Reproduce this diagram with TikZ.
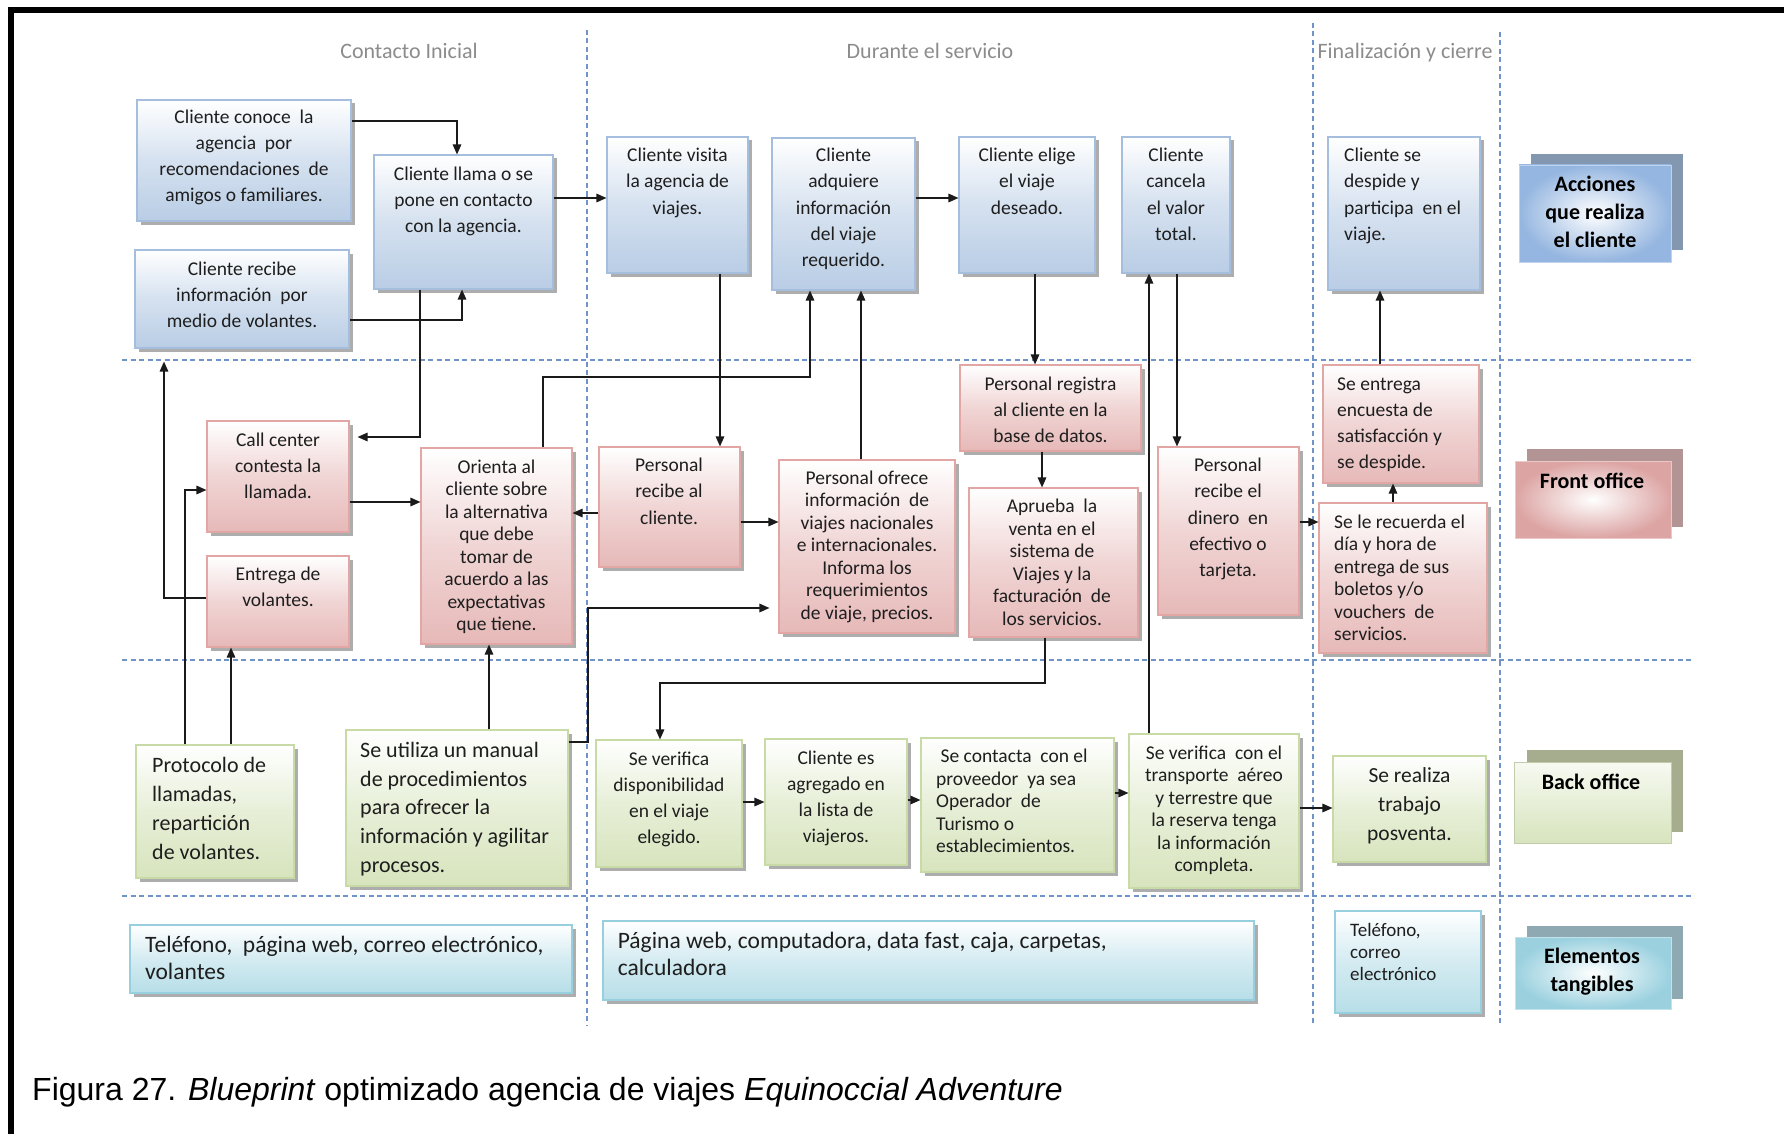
\documentclass[tikz,border=0pt]{standalone}
\usepackage{fontspec}
\setmainfont{Carlito}
\newfontfamily\capfont{Liberation Sans}
\usetikzlibrary{arrows.meta,shadows,fit}

\definecolor{bluebg}{HTML}{B9CDE5}
\definecolor{bluebd}{HTML}{A6BEDD}
\definecolor{redbg}{HTML}{E6B9B8}
\definecolor{redbd}{HTML}{E2A6A5}
\definecolor{greenbg}{HTML}{D7E4BD}
\definecolor{greenbd}{HTML}{C8DAA6}
\definecolor{aquabg}{HTML}{B7DEE8}
\definecolor{aquabd}{HTML}{98CFDE}
\definecolor{lanecol}{HTML}{7094C8}
\definecolor{headcol}{HTML}{8C8C8C}
\definecolor{ink}{HTML}{1E1E1E}
\definecolor{arrcol}{HTML}{1A1A1A}
% legend colours
\definecolor{laback}{HTML}{8497B0}
\definecolor{laout}{HTML}{95B6E0}
\definecolor{lbback}{HTML}{B39495}
\definecolor{lbout}{HTML}{DCA5A4}
\definecolor{lcback}{HTML}{A6AD8F}
\definecolor{lcout}{HTML}{D7E4BD}
\definecolor{ldback}{HTML}{8EA9B1}
\definecolor{ldout}{HTML}{9BD1DF}

\newcommand\fstrut{\rule{0pt}{20pt}}

\begin{document}
\begin{tikzpicture}[x=1pt,y=-1pt,
  every node/.style={inner sep=0pt, text=ink},
  box/.style={line width=1.1pt,
    drop shadow={shadow xshift=3.5pt,shadow yshift=-3.5pt,fill=black,opacity=0.32}},
  cbox/.style={box, draw=bluebd, top color=white, bottom color=bluebg, middle color=bluebg!60},
  fbox/.style={box, draw=redbd, top color=white, bottom color=redbg, middle color=redbg!60},
  bbox/.style={box, draw=greenbd, top color=white, bottom color=greenbg, middle color=greenbg!60},
  tbox/.style={box, draw=aquabd, top color=white, bottom color=aquabg, middle color=aquabg!60},
  tA/.style={align=center, font={\fontsize{19.5}{26.2}\selectfont}},
  tAl/.style={align=left, font={\fontsize{19.5}{26.2}\selectfont}},
  tC/.style={align=center, font={\fontsize{19.5}{22.5}\selectfont}},
  tCl/.style={align=left, font={\fontsize{19.5}{22.5}\selectfont}},
  tD/.style={align=left, font={\fontsize{22}{28.8}\selectfont}},
  tDc/.style={align=center, font={\fontsize{21.5}{28.7}\selectfont}},
  tE/.style={align=left, font={\fontsize{23.5}{27}\selectfont}},
  tEs/.style={align=left, font={\fontsize{19}{21.7}\selectfont}},
  lg/.style={align=center, text=black, font={\bfseries\fontsize{22}{28.3}\selectfont}},
  hd/.style={text=headcol, font={\fontsize{22}{26}\selectfont}},
  lane/.style={draw=lanecol, line width=1.1pt, dash pattern=on 5pt off 3.5pt},
  arr/.style={draw=arrcol, line width=1.4pt, -{Triangle[length=10pt,width=8.5pt]}},
]
\useasboundingbox (0,0) rectangle (1784,1134);
\fill[white] (0,0) rectangle (1784,1134);

% outer frame (top and left edges)
\draw[line width=6pt, line join=miter] (11,1134) -- (11,10) -- (1784,10);

% swim-lane separators
\draw[lane] (122,360) -- (1692,360);
\draw[lane] (122,660) -- (1692,660);
\draw[lane] (122,896) -- (1692,896);
\draw[lane] (587,30) -- (587,1025);
\draw[lane] (1313,23) -- (1313,1025);
\draw[lane] (1500,32) -- (1500,1025);

% phase headers
\node[hd, anchor=base] (h1) at (409,59) {Contacto Inicial};
\node[hd, anchor=base] (h2) at (930,59) {Durante el servicio};
\node[hd, anchor=base] (h3) at (1405,59) {Finalización y cierre};

% ---------- customer actions ----------
\node[cbox, fit={(137,100) (351,221)}] (a1) {};
\node[tA, anchor=north] (a1t) at (244,103) {\fstrut Cliente conoce\ \ la\\agencia\ \ por\\recomendaciones\ \ de\\amigos o familiares.};
\node[cbox, fit={(374,155) (553,289)}] (a2) {};
\node[tA, anchor=north] (a2t) at (463.5,160) {\fstrut Cliente llama o se\\pone en contacto\\con la agencia.};
\node[cbox, fit={(135,250) (349,348)}] (a3) {};
\node[tA, anchor=north] (a3t) at (242,255) {\fstrut Cliente recibe\\información\ \ por\\medio de volantes.};
\node[cbox, fit={(607,137) (748,273)}] (b1) {};
\node[tA, anchor=north] (b1t) at (677.5,141.5) {\fstrut Cliente visita\\la agencia de\\viajes.};
\node[cbox, fit={(772,138) (915,290)}] (b2) {};
\node[tA, anchor=north] (b2t) at (843.5,141.5) {\fstrut Cliente\\adquiere\\información\\del viaje\\requerido.};
\node[cbox, fit={(959,137) (1095,273)}] (b3) {};
\node[tA, anchor=north] (b3t) at (1027,141.5) {\fstrut Cliente elige\\el viaje\\deseado.};
\node[cbox, fit={(1122,137) (1230,273)}] (b4) {};
\node[tA, anchor=north] (b4t) at (1176,141.5) {\fstrut Cliente\\cancela\\el valor\\total.};
\node[cbox, fit={(1328,137) (1480,290)}] (b5) {};
\node[tAl, anchor=north west] (b5t) at (1344,141.5) {\fstrut Cliente se\\despide y\\participa\ \ en el\\viaje.};

% ---------- front office ----------
\node[fbox, fit={(207,421) (349,532)}] (c1) {};
\node[tA, anchor=north] (c1t) at (278,426) {\fstrut Call center\\contesta la\\llamada.};
\node[fbox, fit={(207,556) (349,647)}] (c2) {};
\node[tA, anchor=north] (c2t) at (278,560.5) {\fstrut Entrega de\\volantes.};
\node[fbox, fit={(421,448) (572,644)}] (c3) {};
\node[tC, anchor=north] (c3t) at (496.5,453) {\fstrut Orienta al\\cliente sobre\\la alternativa\\que debe\\tomar de\\acuerdo a las\\expectativas\\que tiene.};
\node[fbox, fit={(599,447) (740,567)}] (c4) {};
\node[tA, anchor=north] (c4t) at (669,451.5) {\fstrut Personal\\recibe al\\cliente.};
\node[fbox, fit={(779,460) (955,633)}] (c5) {};
\node[tC, anchor=north] (c5t) at (867,464) {\fstrut Personal ofrece\\información\ \ de\\viajes nacionales\\e internacionales.\\Informa los\\requerimientos\\de viaje, precios.};
\node[fbox, fit={(960,365) (1141,451)}] (c6) {};
\node[tA, anchor=north] (c6t) at (1050.5,370) {\fstrut Personal registra\\al cliente en la\\base de datos.};
\node[fbox, fit={(969,488) (1138,637)}] (c7) {};
\node[tC, anchor=north] (c7t) at (1052,492.5) {\fstrut Aprueba\ \ la\\venta en el\\sistema de\\Viajes y la\\facturación\ \ de\\los servicios.};
\node[fbox, fit={(1158,447) (1299,615)}] (c8) {};
\node[tA, anchor=north] (c8t) at (1228,451.5) {\fstrut Personal\\recibe el\\dinero\ \ en\\efectivo o\\tarjeta.};
\node[fbox, fit={(1323,365) (1479,483)}] (c9) {};
\node[tAl, anchor=north west] (c9t) at (1337,370) {\fstrut Se entrega\\encuesta de\\satisfacción y\\se despide.};
\node[fbox, fit={(1319,503) (1487,653)}] (c10) {};
\node[tCl, anchor=north west] (c10t) at (1334,508) {\fstrut Se le recuerda el\\día y hora de\\entrega de sus\\boletos y/o\\vouchers\ \ de\\servicios.};

% ---------- back office ----------
\node[bbox, fit={(136,745) (294,878)}] (d1) {};
\node[tD, anchor=north west] (d1t) at (152,752.5) {\fstrut Protocolo de\\llamadas,\\repartición\\de volantes.};
\node[bbox, fit={(346,730) (568,886)}] (d2) {};
\node[tD, anchor=north west] (d2t) at (360,737) {\fstrut Se utiliza un manual\\de procedimientos\\para ofrecer la\\información y agilitar\\procesos.};
\node[bbox, fit={(596,740) (742,867)}] (d3) {};
\node[tA, anchor=north] (d3t) at (669,745) {\fstrut Se verifica\\disponibilidad\\en el viaje\\elegido.};
\node[bbox, fit={(765,739) (907,865)}] (d4) {};
\node[tA, anchor=north] (d4t) at (836,744) {\fstrut Cliente es\\agregado en\\la lista de\\viajeros.};
\node[bbox, fit={(921,738) (1114,872)}] (d5) {};
\node[tCl, anchor=north west] (d5t) at (936,742.5) {\fstrut\hspace*{4.4pt}Se contacta\ \ con el\\proveedor\ \ ya sea\\Operador\ \ de\\Turismo o\\establecimientos.};
\node[bbox, fit={(1129,734) (1299,888)}] (d6) {};
\node[tC, anchor=north] (d6t) at (1214,739) {\fstrut Se verifica\ \ con el\\transporte\ \ aéreo\\y terrestre que\\la reserva tenga\\la información\\completa.};
\node[bbox, fit={(1333,756) (1486,862)}] (d7) {};
\node[tDc, anchor=north] (d7t) at (1409.5,762.5) {\fstrut Se realiza\\trabajo\\posventa.};

% ---------- tangible elements ----------
\node[tbox, fit={(130,925) (572,993)}] (e1) {};
\node[tE, anchor=north west] (e1t) at (145,932) {\fstrut Teléfono,\ \ página web, correo electrónico,\\volantes};
\node[tbox, fit={(603,921) (1254,1000)}] (e2) {};
\node[tE, anchor=north west] (e2t) at (617.6,928) {\fstrut Página web, computadora, data fast, caja, carpetas,\\calculadora};
\node[tbox, fit={(1335,911) (1481,1013)}] (e3) {};
\node[tEs, anchor=north west] (e3t) at (1350,916.5) {\fstrut Teléfono,\\correo\\electrónico};

% ---------- lane legend ----------
\node[fit={(1531,154) (1683,250)}, fill=laback] (l1b) {};
\node[fit={(1519,165) (1671,262)}, draw=laout!60, line width=0.8pt, inner color=white, outer color=laout] (l1) {};
\node[lg, anchor=north] (l1t) at (1595,171) {\fstrut Acciones\\que realiza\\el cliente};
\node[fit={(1527,449) (1683,527)}, fill=lbback] (l2b) {};
\node[fit={(1515,461) (1671,538)}, draw=lbout!60, line width=0.8pt, inner color=white, outer color=lbout] (l2) {};
\node[lg, anchor=north] (l2t) at (1592,468) {\fstrut Front office};
\node[fit={(1527,750) (1683,832)}, fill=lcback] (l3b) {};
\node[fit={(1514,762) (1671,843)}, draw=lcout!90!black, line width=0.8pt, top color=lcout!20, bottom color=lcout] (l3) {};
\node[lg, anchor=north] (l3t) at (1591,769) {\fstrut Back office};
\node[fit={(1527,926) (1683,999)}, fill=ldback] (l4b) {};
\node[fit={(1515,937) (1671,1009)}, draw=ldout!60, line width=0.8pt, inner color=white, outer color=ldout] (l4) {};
\node[lg, anchor=north] (l4t) at (1592,943) {\fstrut Elementos\\tangibles};

% ---------- connectors ----------
\draw[arr] (a1.east |- 0,121) -| (457,0 |- a2.north);
\draw[arr] (a3.east |- 0,320) -| (462,0 |- a2.south);
\draw[arr] (a2.east |- 0,198) -- (b1.west |- 0,198);
\draw[arr, shorten >=8pt] (420,0 |- a2.south) |- (c1.east |- 0,437);
\draw[arr, shorten >=13pt] (c2.west |- 0,598) -| (164,0 |- a3.south);
\draw[arr] (185,0 |- d1.north) |- (c1.west |- 0,490);
\draw[arr] (231,0 |- d1.north) -- (231,0 |- c2.south);
\draw[arr] (c1.east |- 0,502) -- (c3.west |- 0,502);
\draw[arr] (489,0 |- d2.north) -- (489,0 |- c3.south);
\draw[arr] (543,0 |- c3.north) |- (810,377) -- (810,0 |- b2.south);
\draw[arr] (720,0 |- b1.south) -- (720,0 |- c4.north);
\draw[arr] (c4.west |- 0,513) -- (c3.east |- 0,513);
\draw[arr] (c4.east |- 0,522) -- (c5.west |- 0,522);
\draw[arr] (861,0 |- c5.north) -- (861,0 |- b2.south);
\draw[arr, shorten >=9pt] (d2.east |- 0,742) -| (588,608) -- (c5.west |- 0,608);
\draw[arr] (b2.east |- 0,198) -- (b3.west |- 0,198);
\draw[arr] (1035,0 |- b3.south) -- (1035,0 |- c6.north);
\draw[arr] (1042,0 |- c6.south) -- (1042,0 |- c7.north);
\draw[arr] (1045,0 |- c7.south) |- (660,683) -- (660,0 |- d3.north);
\draw[arr] (1149,0 |- d6.north) -- (1149,0 |- b4.south);
\draw[arr] (1177,0 |- b4.south) -- (1177,0 |- c8.north);
\draw[arr] (c8.east |- 0,522) -- (c10.west |- 0,522);
\draw[arr] (1393,0 |- c10.north) -- (1393,0 |- c9.south);
\draw[arr] (1380,0 |- c9.north) -- (1380,0 |- b5.south);
\draw[arr] (d3.east |- 0,802) -- (d4.west |- 0,802);
\draw[arr] (d4.east |- 0,800) -- (d5.west |- 0,800);
\draw[arr] (d5.east |- 0,793) -- (d6.west |- 0,793);
\draw[arr] (d6.east |- 0,808) -- (d7.west |- 0,808);

% caption
\node[anchor=base west, text=black, font={\capfont\fontsize{32}{37}\selectfont}] (cap) at (32,1100)
  {Figura 27. \textit{Blueprint} optimizado agencia de viajes \textit{Equinoccial Adventure}};
\end{tikzpicture}
\end{document}
